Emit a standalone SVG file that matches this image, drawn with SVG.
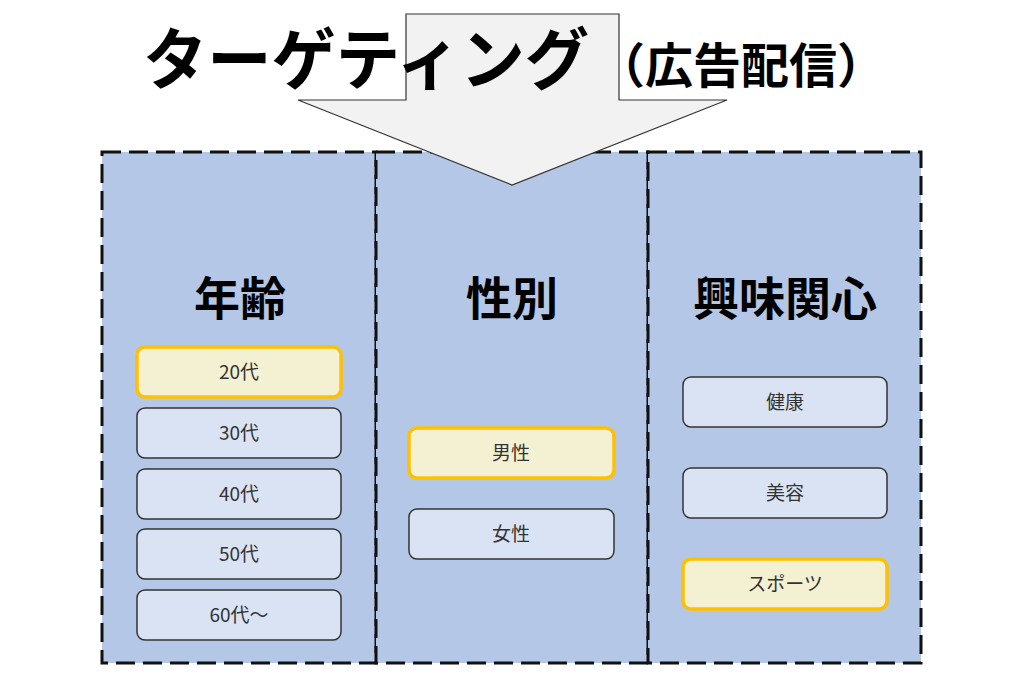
<svg xmlns="http://www.w3.org/2000/svg" width="1024" height="688" viewBox="0 0 1024 688">
<style>
.panel{fill:#b4c7e7;stroke:#111;stroke-width:3;stroke-dasharray:19 8}
.box{fill:#dae3f3;stroke:#333;stroke-width:1.5}
.hl{fill:#f3f1d2;stroke:#ffc000;stroke-width:3.5}
.lbl{font-family:"Noto Sans CJK JP","Noto Sans",sans-serif;font-size:19px;fill:#333;text-anchor:middle}
.head{font-family:"Noto Sans CJK JP",sans-serif;font-size:46px;font-weight:bold;fill:#000;text-anchor:middle}
</style>
<rect width="1024" height="688" fill="#fff"/>
<g id="panel-age"><rect class="panel" x="102" y="152" width="274" height="511"/><text class="head" x="240" y="315">年齢</text></g>
<g id="panel-gender"><rect class="panel" x="376" y="152" width="272" height="511"/><text class="head" x="512" y="315">性別</text></g>
<g id="panel-interest"><rect class="panel" x="648" y="152" width="273" height="511"/><text class="head" x="785" y="315">興味関心</text></g>
<g id="arrow"><polygon points="406,14 619,14 619,100 727,100 512,185 298,100 406,100" fill="#f2f2f2" stroke="#333" stroke-width="1.2"/></g>
<g id="title">
<text x="143" y="84" font-family="Noto Sans CJK JP,sans-serif" font-size="67" font-weight="bold" fill="#000" textLength="446" lengthAdjust="spacingAndGlyphs">ターゲティング</text>
<text x="597" y="83" font-family="Noto Sans CJK JP,sans-serif" font-size="48" font-weight="bold" fill="#000">（広告配信）</text>
</g>
<g id="age-20"><rect class="hl" x="137" y="347" width="204" height="50" rx="8"/><text class="lbl" x="239" y="379">20代</text></g>
<g id="age-30"><rect class="box" x="137" y="408" width="204" height="50" rx="8"/><text class="lbl" x="239" y="440">30代</text></g>
<g id="age-40"><rect class="box" x="137" y="469" width="204" height="50" rx="8"/><text class="lbl" x="239" y="501">40代</text></g>
<g id="age-50"><rect class="box" x="137" y="529" width="204" height="50" rx="8"/><text class="lbl" x="239" y="561">50代</text></g>
<g id="age-60"><rect class="box" x="137" y="590" width="204" height="50" rx="8"/><text class="lbl" x="239" y="622">60代～</text></g>
<g id="male"><rect class="hl" x="409" y="428" width="205" height="50" rx="8"/><text class="lbl" x="511" y="460">男性</text></g>
<g id="female"><rect class="box" x="409" y="509" width="205" height="50" rx="8"/><text class="lbl" x="511" y="541">女性</text></g>
<g id="health"><rect class="box" x="683" y="377" width="204" height="50" rx="8"/><text class="lbl" x="785" y="409">健康</text></g>
<g id="beauty"><rect class="box" x="683" y="468" width="204" height="50" rx="8"/><text class="lbl" x="785" y="500">美容</text></g>
<g id="sports"><rect class="hl" x="683" y="559" width="204" height="50" rx="8"/><text class="lbl" x="785" y="591">スポーツ</text></g>
<g id="connectors"></g>
</svg>
